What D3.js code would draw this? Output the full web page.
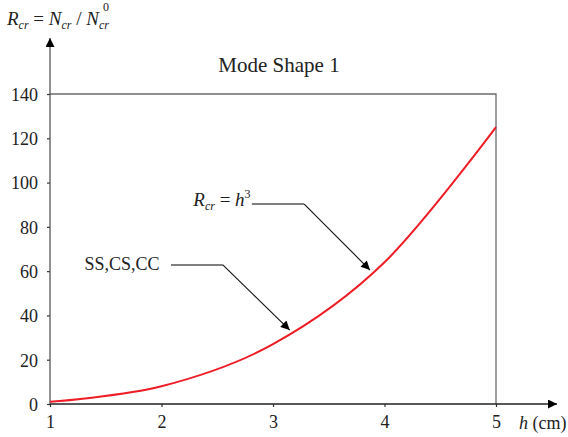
<!DOCTYPE html>
<html>
<head>
<meta charset="utf-8">
<script src="https://cdn.jsdelivr.net/npm/d3@7/dist/d3.min.js"></script>
<style>
  html, body { margin: 0; padding: 0; background: #fff; }
  svg { display: block; font-family: "Liberation Serif", "Times New Roman", serif; }
</style>
</head>
<body>
<svg id="chart" width="568" height="437"></svg>
<script>
// Critical load ratio R = h^3 for mode shape 1
const hValues = [1, 2, 3, 4, 5];
const ratioValues = [1, 8, 27, 64, 125];
const xTicks = [1, 2, 3, 4, 5];
const yTicks = [0, 20, 40, 60, 80, 100, 120, 140];
const chartTitle = "Mode Shape 1";
const curveLabel = "SS,CS,CC";

const svg = d3.select("#chart");
const x = d3.scaleLinear().domain([1, 5]).range([50, 496]);
const y = d3.scaleLinear().domain([0, 140]).range([404, 94]);

// arrowhead marker
const defs = svg.append("defs");
defs.append("marker")
  .attr("id", "arrow")
  .attr("viewBox", "0 0 10 10")
  .attr("refX", 10).attr("refY", 5)
  .attr("markerWidth", 11).attr("markerHeight", 9)
  .attr("markerUnits", "userSpaceOnUse")
  .attr("orient", "auto")
  .append("path").attr("d", "M0,0 L10,5 L0,10 Z").attr("fill", "#000");

// frame: top and right edges of the plot box
svg.append("path")
  .attr("d", `M${x(1)},${y(140)} H${x(5)} V${y(0)}`)
  .attr("fill", "none").attr("stroke", "#6b6b6b").attr("stroke-width", 1.3);

// axes with ticks
const xAxis = d3.axisBottom(x).tickValues(xTicks).tickSize(3).tickPadding(8).tickFormat(d3.format("d"));
const yAxis = d3.axisLeft(y).tickValues(yTicks).tickSize(3).tickPadding(9).tickFormat(d3.format("d"));

const gx = svg.append("g").attr("transform", `translate(0,${y(0)})`).call(xAxis);
const gy = svg.append("g").attr("transform", `translate(${x(1)},0)`).call(yAxis);
[gx, gy].forEach(g => {
  g.select(".domain").remove();
  g.selectAll(".tick line").attr("stroke", "#333").attr("stroke-width", 1.2);
  g.selectAll(".tick text")
    .attr("fill", "#222")
    .style("font-family", "'Liberation Serif', 'Times New Roman', serif")
    .style("font-size", "18px");
});
gx.selectAll(".tick text").attr("dy", "0.71em").attr("y", 11);
gy.selectAll(".tick text").attr("dy", "0.35em");

// axis lines with arrowheads
svg.append("line")
  .attr("x1", x(1)).attr("y1", y(0)).attr("x2", 557).attr("y2", y(0))
  .attr("stroke", "#222").attr("stroke-width", 1.3).attr("marker-end", "url(#arrow)");
svg.append("line")
  .attr("x1", x(1)).attr("y1", y(0)).attr("x2", x(1)).attr("y2", 38)
  .attr("stroke", "#555").attr("stroke-width", 1.3).attr("marker-end", "url(#arrow)");

// data curve
const line = d3.line()
  .x((d, i) => x(hValues[i]))
  .y(d => y(d))
  .curve(d3.curveCardinal.tension(0));
svg.append("path")
  .datum(ratioValues)
  .attr("d", line)
  .attr("fill", "none")
  .attr("stroke", "#ee1c24")
  .attr("stroke-width", 2);

// title
svg.append("text")
  .attr("x", 279).attr("y", 72)
  .attr("text-anchor", "middle")
  .attr("fill", "#222")
  .style("font-size", "21px")
  .text(chartTitle);

// y-axis label: R_cr = N_cr / N_cr^0
const yl = svg.append("text").attr("x", 7).attr("y", 25).attr("fill", "#222").style("font-size", "19px");
yl.append("tspan").style("font-style", "italic").text("R");
yl.append("tspan").style("font-style", "italic").style("font-size", "12px").attr("dy", 4).text("cr");
yl.append("tspan").attr("dy", -4).text(" = ");
yl.append("tspan").style("font-style", "italic").text("N");
yl.append("tspan").style("font-style", "italic").style("font-size", "12px").attr("dy", 4).text("cr");
yl.append("tspan").attr("dy", -4).text(" / ");
yl.append("tspan").style("font-style", "italic").text("N");
yl.append("tspan").style("font-style", "italic").style("font-size", "12px").attr("dy", 4).text("cr");
svg.append("text").attr("x", 103).attr("y", 11).attr("fill", "#222").style("font-size", "12px").text("0");

// x-axis label: h (cm)
const xl = svg.append("text").attr("x", 519).attr("y", 429).attr("fill", "#222").style("font-size", "18px");
xl.append("tspan").style("font-style", "italic").text("h");
xl.append("tspan").text(" (cm)");

// annotations, placed in data units
function leader(start, elbow, tip) {
  svg.append("path")
    .attr("d", `M${x(start[0])},${y(start[1])} H${x(elbow[0])}`)
    .attr("stroke", "#555").attr("stroke-width", 1.4).attr("fill", "none");
  svg.append("line")
    .attr("x1", x(elbow[0])).attr("y1", y(start[1]))
    .attr("x2", x(tip[0])).attr("y2", y(tip[1]))
    .attr("stroke", "#111").attr("stroke-width", 1.1)
    .attr("marker-end", "url(#arrow)");
}

// formula label R_cr = h^3
const fl = svg.append("text").attr("x", x(2.285)).attr("y", y(89.4)).attr("fill", "#222").style("font-size", "19px");
fl.append("tspan").style("font-style", "italic").text("R");
fl.append("tspan").style("font-style", "italic").style("font-size", "12px").attr("dy", 4).text("cr");
fl.append("tspan").attr("dy", -4).text(" = ");
fl.append("tspan").style("font-style", "italic").text("h");
fl.append("tspan").style("font-size", "12px").attr("dy", -8).text("3");
leader([2.81, 90.3], [3.28, 90.3], [3.87, 60.5]);

// boundary-condition label
svg.append("text").attr("x", x(1.31)).attr("y", y(60.5)).attr("fill", "#222").style("font-size", "18px").text(curveLabel);
leader([2.085, 62.8], [2.55, 62.8], [3.15, 33.4]);
</script>
</body>
</html>
